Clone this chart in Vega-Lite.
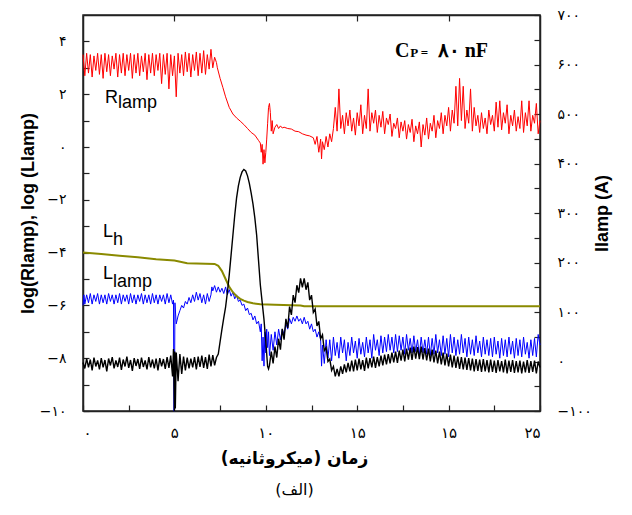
{
"$schema":"https://vega.github.io/schema/vega-lite/v6.json",
"autosize":"none",
"padding":{"left":83,"top":15,"right":92,"bottom":104},
"width":457,"height":396,
"config":{"view":{"stroke":"#222","strokeWidth":1.5},
"axis":{"grid":false,"domainColor":"#222","domainWidth":1.5,"tickColor":"#222","tickWidth":1.2,"labelFont":"DejaVu Sans","labelFontSize":14,"labelColor":"#000","titleColor":"#000"}},
"title":{"text":"(الف)","orient":"bottom","font":"DejaVu Sans","fontSize":16,"fontWeight":"normal","offset":16,"dx":-17,"color":"#000"},
"datasets":{
"red":[{"x":0,"y":3.5},{"x":0.1,"y":2.7},{"x":0.2,"y":3.55},{"x":0.3,"y":2.8},{"x":0.4,"y":3.5},{"x":0.5,"y":2.65},{"x":0.6,"y":3.45},{"x":0.7,"y":2.9},{"x":0.8,"y":3.55},{"x":0.9,"y":2.75},{"x":1.0,"y":3.5},{"x":1.1,"y":2.6},{"x":1.2,"y":3.55},{"x":1.3,"y":2.85},{"x":1.4,"y":3.5},{"x":1.5,"y":2.7},{"x":1.6,"y":3.45},{"x":1.7,"y":2.95},{"x":1.8,"y":3.55},{"x":1.9,"y":2.65},{"x":2.0,"y":3.5},{"x":2.1,"y":2.8},{"x":2.2,"y":3.55},{"x":2.3,"y":2.7},{"x":2.4,"y":3.5},{"x":2.5,"y":2.9},{"x":2.6,"y":3.55},{"x":2.7,"y":2.6},{"x":2.8,"y":3.5},{"x":2.9,"y":2.8},{"x":3.0,"y":3.55},{"x":3.1,"y":2.7},{"x":3.2,"y":3.45},{"x":3.3,"y":2.85},{"x":3.4,"y":3.55},{"x":3.5,"y":2.55},{"x":3.6,"y":3.5},{"x":3.7,"y":2.8},{"x":3.8,"y":3.55},{"x":3.9,"y":2.7},{"x":4.0,"y":3.5},{"x":4.1,"y":2.9},{"x":4.2,"y":3.55},{"x":4.3,"y":2.4},{"x":4.4,"y":3.5},{"x":4.5,"y":2.75},{"x":4.6,"y":3.55},{"x":4.7,"y":2.2},{"x":4.8,"y":3.5},{"x":4.9,"y":2.7},{"x":5.0,"y":3.45},{"x":5.1,"y":1.9},{"x":5.2,"y":3.55},{"x":5.3,"y":2.8},{"x":5.4,"y":3.5},{"x":5.5,"y":2.7},{"x":5.6,"y":3.6},{"x":5.7,"y":2.85},{"x":5.8,"y":3.55},{"x":5.9,"y":2.65},{"x":6.0,"y":3.5},{"x":6.1,"y":2.9},{"x":6.2,"y":3.6},{"x":6.3,"y":2.7},{"x":6.4,"y":3.55},{"x":6.5,"y":2.8},{"x":6.6,"y":3.65},{"x":6.7,"y":2.75},{"x":6.8,"y":3.5},{"x":6.9,"y":2.95},{"x":7.0,"y":3.7},{"x":7.1,"y":3.0},{"x":7.2,"y":3.4},{"x":7.3,"y":3.2},
{"x":7.35,"y":3.0},{"x":7.5,"y":2.6},{"x":7.65,"y":2.26},{"x":7.8,"y":1.9},{"x":8.0,"y":1.5},{"x":8.2,"y":1.25},{"x":8.4,"y":1.1},{"x":8.6,"y":0.98},{"x":8.8,"y":0.85},{"x":9.0,"y":0.7},{"x":9.2,"y":0.55},{"x":9.4,"y":0.45},{"x":9.6,"y":0.25},{"x":9.7,"y":0.15},{"x":9.75,"y":-0.2},{"x":9.8,"y":0.1},{"x":9.85,"y":-0.65},{"x":9.9,"y":-0.1},{"x":9.95,"y":-0.6},{"x":10.0,"y":-0.2},{"x":10.05,"y":0.3},{"x":10.1,"y":0.9},{"x":10.15,"y":1.5},{"x":10.2,"y":1.65},{"x":10.25,"y":1.3},{"x":10.3,"y":0.6},{"x":10.35,"y":1.0},{"x":10.4,"y":0.5},{"x":10.5,"y":0.75},{"x":10.6,"y":0.85},{"x":10.7,"y":0.7},{"x":10.8,"y":0.8},{"x":10.9,"y":0.72},{"x":11.0,"y":0.75},{"x":11.2,"y":0.7},{"x":11.4,"y":0.68},{"x":11.6,"y":0.6},{"x":11.8,"y":0.58},{"x":12.0,"y":0.5},{"x":12.2,"y":0.45},{"x":12.4,"y":0.42},{"x":12.6,"y":0.35},{"x":12.7,"y":0.1},{"x":12.8,"y":0.4},{"x":12.9,"y":-0.2},{"x":13.0,"y":0.3},{"x":13.05,"y":-0.45},{"x":13.1,"y":0.2},{"x":13.2,"y":-0.1},{"x":13.3,"y":0.4},{"x":13.4,"y":0.0},{"x":13.5,"y":0.5},{"x":13.6,"y":0.2},{"x":13.7,"y":0.7},
{"x":13.8,"y":1.5},{"x":13.9,"y":0.6},{"x":14.0,"y":2.2},{"x":14.1,"y":0.7},{"x":14.2,"y":1.2},{"x":14.3,"y":0.5},{"x":14.4,"y":1.3},{"x":14.5,"y":0.8},{"x":14.6,"y":1.4},{"x":14.7,"y":0.6},{"x":14.8,"y":1.1},{"x":14.9,"y":0.45},{"x":15.0,"y":1.3},{"x":15.1,"y":0.8},{"x":15.2,"y":1.6},{"x":15.3,"y":0.5},{"x":15.4,"y":1.2},{"x":15.5,"y":0.7},{"x":15.6,"y":2.2},{"x":15.7,"y":0.6},{"x":15.8,"y":1.3},{"x":15.9,"y":0.9},{"x":16.0,"y":1.4},{"x":16.1,"y":0.55},{"x":16.2,"y":1.2},{"x":16.3,"y":0.75},{"x":16.4,"y":1.35},{"x":16.5,"y":0.5},{"x":16.6,"y":1.1},{"x":16.7,"y":0.85},{"x":16.8,"y":1.25},{"x":16.9,"y":0.4},{"x":17.0,"y":0.9},{"x":17.1,"y":0.7},{"x":17.2,"y":1.1},{"x":17.3,"y":0.35},{"x":17.4,"y":0.95},{"x":17.5,"y":0.6},{"x":17.6,"y":1.0},{"x":17.7,"y":0.3},{"x":17.8,"y":0.85},{"x":17.9,"y":0.55},{"x":18.0,"y":1.05},{"x":18.1,"y":0.2},{"x":18.2,"y":0.8},{"x":18.3,"y":0.5},{"x":18.4,"y":0.95},{"x":18.5,"y":0.0},{"x":18.6,"y":0.85},{"x":18.7,"y":0.45},{"x":18.8,"y":1.1},{"x":18.9,"y":0.3},{"x":19.0,"y":0.9},{"x":19.1,"y":0.6},{"x":19.2,"y":1.2},{"x":19.3,"y":0.35},{"x":19.4,"y":1.0},{"x":19.5,"y":0.7},{"x":19.6,"y":1.3},{"x":19.7,"y":0.5},{"x":19.8,"y":1.2},{"x":19.9,"y":0.8},{"x":20.0,"y":1.5},{"x":20.1,"y":0.6},{"x":20.2,"y":1.4},{"x":20.3,"y":0.9},{"x":20.4,"y":2.3},{"x":20.5,"y":0.8},{"x":20.6,"y":2.6},{"x":20.7,"y":1.0},{"x":20.8,"y":2.3},{"x":20.9,"y":0.7},{"x":21.0,"y":1.4},{"x":21.1,"y":0.9},{"x":21.2,"y":2.2},{"x":21.3,"y":0.6},{"x":21.4,"y":1.5},{"x":21.5,"y":0.8},{"x":21.6,"y":1.2},{"x":21.7,"y":0.55},{"x":21.8,"y":1.3},{"x":21.9,"y":0.7},{"x":22.0,"y":1.1},{"x":22.1,"y":0.5},{"x":22.2,"y":1.4},{"x":22.3,"y":0.85},{"x":22.4,"y":1.2},{"x":22.5,"y":0.6},{"x":22.6,"y":1.7},{"x":22.7,"y":0.75},{"x":22.8,"y":1.75},{"x":22.9,"y":0.65},{"x":23.0,"y":1.3},{"x":23.1,"y":0.9},{"x":23.2,"y":1.6},{"x":23.3,"y":0.5},{"x":23.4,"y":1.2},{"x":23.5,"y":0.8},{"x":23.6,"y":1.4},{"x":23.7,"y":0.6},{"x":23.8,"y":1.15},{"x":23.9,"y":0.7},{"x":24.0,"y":1.75},{"x":24.1,"y":0.55},{"x":24.2,"y":1.3},{"x":24.3,"y":0.8},{"x":24.4,"y":1.75},{"x":24.5,"y":0.6},{"x":24.6,"y":1.2},{"x":24.7,"y":0.9},{"x":24.8,"y":1.65},{"x":24.9,"y":0.5},{"x":25.0,"y":1.0}],
"blue":[{"x":0,"y":-6.0},{"x":0.05,"y":-5.6},{"x":0.1,"y":-5.95},{"x":0.2,"y":-5.6},{"x":0.3,"y":-5.9},{"x":0.4,"y":-5.55},{"x":0.5,"y":-5.95},{"x":0.6,"y":-5.6},{"x":0.7,"y":-5.85},{"x":0.8,"y":-5.55},{"x":0.9,"y":-5.95},{"x":1.0,"y":-5.6},{"x":1.1,"y":-5.9},{"x":1.2,"y":-5.6},{"x":1.3,"y":-5.95},{"x":1.4,"y":-5.55},{"x":1.5,"y":-5.85},{"x":1.6,"y":-5.6},{"x":1.7,"y":-5.95},{"x":1.8,"y":-5.6},{"x":1.9,"y":-5.9},{"x":2.0,"y":-5.55},{"x":2.1,"y":-5.95},{"x":2.2,"y":-5.6},{"x":2.3,"y":-5.85},{"x":2.4,"y":-5.6},{"x":2.5,"y":-5.95},{"x":2.6,"y":-5.55},{"x":2.7,"y":-5.9},{"x":2.8,"y":-5.6},{"x":2.9,"y":-5.95},{"x":3.0,"y":-5.6},{"x":3.1,"y":-5.85},{"x":3.2,"y":-5.55},{"x":3.3,"y":-5.95},{"x":3.4,"y":-5.6},{"x":3.5,"y":-5.9},{"x":3.6,"y":-5.6},{"x":3.7,"y":-5.95},{"x":3.8,"y":-5.55},{"x":3.9,"y":-5.9},{"x":4.0,"y":-5.6},{"x":4.1,"y":-5.95},{"x":4.2,"y":-5.6},{"x":4.3,"y":-5.85},{"x":4.4,"y":-5.6},{"x":4.5,"y":-5.95},{"x":4.6,"y":-5.55},{"x":4.7,"y":-5.9},{"x":4.8,"y":-5.6},{"x":4.9,"y":-5.95},{"x":4.95,"y":-5.8},{"x":4.97,"y":-10},{"x":5.0,"y":-10},{"x":5.03,"y":-5.9},{"x":5.1,"y":-6.7},{"x":5.2,"y":-6.4},{"x":5.3,"y":-6.2},{"x":5.4,"y":-6.0},{"x":5.5,"y":-6.1},{"x":5.6,"y":-5.85},{"x":5.7,"y":-5.95},{"x":5.8,"y":-5.7},{"x":5.9,"y":-5.9},{"x":6.0,"y":-5.6},{"x":6.1,"y":-5.85},{"x":6.2,"y":-5.5},{"x":6.3,"y":-5.8},{"x":6.4,"y":-5.55},{"x":6.5,"y":-5.9},{"x":6.6,"y":-5.6},{"x":6.7,"y":-5.95},{"x":6.8,"y":-5.55},{"x":6.9,"y":-5.85},{"x":7.0,"y":-5.6},{"x":7.05,"y":-5.3},{"x":7.1,"y":-5.45},{"x":7.2,"y":-5.25},{"x":7.3,"y":-5.5},{"x":7.4,"y":-5.3},{"x":7.5,"y":-5.5},{"x":7.6,"y":-5.35},{"x":7.7,"y":-5.55},{"x":7.8,"y":-5.3},{"x":7.9,"y":-5.6},{"x":8.0,"y":-5.4},{"x":8.1,"y":-5.65},{"x":8.2,"y":-5.5},{"x":8.3,"y":-5.75},{"x":8.4,"y":-5.6},{"x":8.5,"y":-5.85},{"x":8.6,"y":-5.8},{"x":8.7,"y":-6.0},{"x":8.8,"y":-5.95},{"x":8.9,"y":-6.2},{"x":9.0,"y":-6.1},{"x":9.1,"y":-6.35},{"x":9.2,"y":-6.3},{"x":9.3,"y":-6.55},{"x":9.4,"y":-6.4},{"x":9.5,"y":-6.7},{"x":9.6,"y":-6.6},{"x":9.7,"y":-7.0},{"x":9.75,"y":-6.7},{"x":9.8,"y":-8.1},{"x":9.85,"y":-7.2},{"x":9.9,"y":-8.3},{"x":9.95,"y":-7.0},{"x":10.0,"y":-7.8},{"x":10.05,"y":-6.9},{"x":10.1,"y":-7.6},{"x":10.15,"y":-7.0},{"x":10.2,"y":-7.9},{"x":10.3,"y":-7.1},{"x":10.4,"y":-7.7},{"x":10.5,"y":-7.0},{"x":10.6,"y":-7.5},{"x":10.7,"y":-6.9},{"x":10.8,"y":-7.3},{"x":10.9,"y":-6.9},{"x":11.0,"y":-7.1},{"x":11.1,"y":-6.7},{"x":11.2,"y":-6.9},{"x":11.3,"y":-6.5},{"x":11.4,"y":-6.7},{"x":11.5,"y":-6.45},{"x":11.6,"y":-6.6},{"x":11.7,"y":-6.4},{"x":11.8,"y":-6.6},{"x":11.9,"y":-6.5},{"x":12.0,"y":-6.7},{"x":12.1,"y":-6.45},{"x":12.2,"y":-6.7},{"x":12.3,"y":-6.6},{"x":12.4,"y":-6.9},{"x":12.5,"y":-6.7},{"x":12.6,"y":-7.0},{"x":12.7,"y":-6.9},{"x":12.8,"y":-7.2},{"x":12.9,"y":-7.0},{"x":13.0,"y":-7.3},{"x":13.05,"y":-8.3},{"x":13.1,"y":-7.5},{"x":13.2,"y":-8.2},{"x":13.3,"y":-7.3},{"x":13.4,"y":-8.0},{"x":13.5,"y":-7.3},{"x":13.6,"y":-8.1},{"x":13.7,"y":-7.2},{"x":13.8,"y":-7.9},{"x":13.9,"y":-7.4},{"x":14.0,"y":-8.0},{"x":14.1,"y":-7.2},{"x":14.2,"y":-7.8},{"x":14.3,"y":-7.3},{"x":14.4,"y":-8.1},{"x":14.5,"y":-7.4},{"x":14.6,"y":-7.9},{"x":14.7,"y":-7.2},{"x":14.8,"y":-7.8},{"x":14.9,"y":-7.35},{"x":15.0,"y":-8.0},{"x":15.1,"y":-7.25},{"x":15.2,"y":-7.85},{"x":15.3,"y":-7.4},{"x":15.4,"y":-7.95},{"x":15.5,"y":-7.2},{"x":15.6,"y":-7.8},{"x":15.7,"y":-7.3},{"x":15.8,"y":-8.0},{"x":15.9,"y":-7.1},{"x":16.0,"y":-7.7},{"x":16.1,"y":-7.3},{"x":16.2,"y":-7.9},{"x":16.3,"y":-7.15},{"x":16.4,"y":-7.8},{"x":16.5,"y":-7.2},{"x":16.6,"y":-7.75},{"x":16.7,"y":-7.1},{"x":16.8,"y":-7.7},{"x":16.9,"y":-7.2},{"x":17.0,"y":-7.8},{"x":17.1,"y":-7.1},{"x":17.2,"y":-7.75},{"x":17.3,"y":-7.15},{"x":17.4,"y":-7.7},{"x":17.5,"y":-7.2},{"x":17.6,"y":-7.85},{"x":17.7,"y":-7.1},{"x":17.8,"y":-7.7},{"x":17.9,"y":-7.25},{"x":18.0,"y":-7.8},{"x":18.1,"y":-7.15},{"x":18.2,"y":-7.75},{"x":18.3,"y":-7.3},{"x":18.4,"y":-7.9},{"x":18.5,"y":-7.2},{"x":18.6,"y":-7.8},{"x":18.7,"y":-7.3},{"x":18.8,"y":-7.85},{"x":18.9,"y":-7.2},{"x":19.0,"y":-7.9},{"x":19.1,"y":-7.25},{"x":19.2,"y":-7.85},{"x":19.3,"y":-7.1},{"x":19.4,"y":-7.8},{"x":19.5,"y":-7.3},{"x":19.6,"y":-7.9},{"x":19.7,"y":-7.15},{"x":19.8,"y":-7.85},{"x":19.9,"y":-7.25},{"x":20.0,"y":-7.95},{"x":20.1,"y":-7.1},{"x":20.2,"y":-7.8},{"x":20.3,"y":-7.2},{"x":20.4,"y":-7.9},{"x":20.5,"y":-7.3},{"x":20.6,"y":-7.85},{"x":20.7,"y":-7.1},{"x":20.8,"y":-7.8},{"x":20.9,"y":-7.25},{"x":21.0,"y":-7.95},{"x":21.1,"y":-7.2},{"x":21.2,"y":-7.85},{"x":21.3,"y":-7.3},{"x":21.4,"y":-7.9},{"x":21.5,"y":-7.15},{"x":21.6,"y":-7.8},{"x":21.7,"y":-7.35},{"x":21.8,"y":-7.95},{"x":21.9,"y":-7.2},{"x":22.0,"y":-7.85},{"x":22.1,"y":-7.3},{"x":22.2,"y":-7.9},{"x":22.3,"y":-7.25},{"x":22.4,"y":-7.95},{"x":22.5,"y":-7.2},{"x":22.6,"y":-7.85},{"x":22.7,"y":-7.35},{"x":22.8,"y":-8.0},{"x":22.9,"y":-7.25},{"x":23.0,"y":-7.9},{"x":23.1,"y":-7.3},{"x":23.2,"y":-7.95},{"x":23.3,"y":-7.2},{"x":23.4,"y":-7.85},{"x":23.5,"y":-7.35},{"x":23.6,"y":-8.0},{"x":23.7,"y":-7.25},{"x":23.8,"y":-7.9},{"x":23.9,"y":-7.3},{"x":24.0,"y":-7.95},{"x":24.1,"y":-7.2},{"x":24.2,"y":-7.85},{"x":24.3,"y":-7.4},{"x":24.4,"y":-8.0},{"x":24.5,"y":-7.3},{"x":24.6,"y":-7.9},{"x":24.7,"y":-7.25},{"x":24.8,"y":-7.95},{"x":24.9,"y":-7.1},{"x":25.0,"y":-7.5}],
"olive":[{"x":0,"y":-4.0},{"x":1.0,"y":-4.05},{"x":2.0,"y":-4.12},{"x":3.0,"y":-4.18},{"x":4.0,"y":-4.25},{"x":5.0,"y":-4.3},{"x":5.7,"y":-4.4},{"x":7.2,"y":-4.43},{"x":7.4,"y":-4.5},{"x":7.6,"y":-4.7},{"x":7.8,"y":-5.0},{"x":8.0,"y":-5.3},{"x":8.2,"y":-5.5},{"x":8.4,"y":-5.65},{"x":8.6,"y":-5.75},{"x":8.8,"y":-5.82},{"x":9.0,"y":-5.87},{"x":9.3,"y":-5.92},{"x":9.7,"y":-5.96},{"x":10.5,"y":-5.98},{"x":11.9,"y":-6.0},{"x":12.1,"y":-6.03},{"x":25,"y":-6.03}],
"cur":[{"x":0,"y":-2},{"x":0.1,"y":-14},{"x":0.2,"y":6},{"x":0.3,"y":-12},{"x":0.4,"y":4},{"x":0.5,"y":-18},{"x":0.6,"y":8},{"x":0.7,"y":-10},{"x":0.8,"y":2},{"x":0.9,"y":-16},{"x":1.0,"y":7},{"x":1.1,"y":-12},{"x":1.2,"y":3},{"x":1.3,"y":-20},{"x":1.4,"y":6},{"x":1.5,"y":-8},{"x":1.6,"y":9},{"x":1.7,"y":-14},{"x":1.8,"y":2},{"x":1.9,"y":-11},{"x":2.0,"y":8},{"x":2.1,"y":-17},{"x":2.2,"y":4},{"x":2.3,"y":-10},{"x":2.4,"y":10},{"x":2.5,"y":-13},{"x":2.6,"y":3},{"x":2.7,"y":-19},{"x":2.8,"y":7},{"x":2.9,"y":-9},{"x":3.0,"y":5},{"x":3.1,"y":-15},{"x":3.2,"y":8},{"x":3.3,"y":-11},{"x":3.4,"y":2},{"x":3.5,"y":-16},{"x":3.6,"y":9},{"x":3.7,"y":-12},{"x":3.8,"y":4},{"x":3.9,"y":-14},{"x":4.0,"y":6},{"x":4.1,"y":-18},{"x":4.2,"y":7},{"x":4.3,"y":-10},{"x":4.4,"y":5},{"x":4.5,"y":-15},{"x":4.6,"y":9},{"x":4.7,"y":-13},{"x":4.8,"y":12},{"x":4.9,"y":-30},{"x":4.95,"y":25},{"x":5.0,"y":-100},{"x":5.02,"y":20},{"x":5.05,"y":-95},{"x":5.1,"y":18},{"x":5.2,"y":-40},{"x":5.3,"y":15},{"x":5.4,"y":-25},{"x":5.5,"y":10},{"x":5.6,"y":-18},{"x":5.7,"y":8},{"x":5.8,"y":-14},{"x":5.9,"y":6},{"x":6.0,"y":-12},{"x":6.1,"y":9},{"x":6.2,"y":-16},{"x":6.3,"y":10},{"x":6.4,"y":-11},{"x":6.5,"y":12},{"x":6.6,"y":-13},{"x":6.7,"y":9},{"x":6.8,"y":-15},{"x":6.9,"y":14},{"x":7.0,"y":-10},{"x":7.1,"y":13},{"x":7.2,"y":-8},{"x":7.3,"y":8},
{"x":7.4,"y":15},{"x":7.5,"y":40},{"x":7.6,"y":65},{"x":7.7,"y":88},{"x":7.8,"y":110},{"x":7.9,"y":140},{"x":8.0,"y":175},{"x":8.1,"y":215},{"x":8.2,"y":255},{"x":8.3,"y":295},{"x":8.4,"y":330},{"x":8.5,"y":355},{"x":8.6,"y":372},{"x":8.7,"y":383},{"x":8.8,"y":388},{"x":8.9,"y":385},{"x":9.0,"y":375},{"x":9.1,"y":360},{"x":9.2,"y":340},{"x":9.3,"y":318},{"x":9.4,"y":290},{"x":9.5,"y":255},{"x":9.6,"y":205},{"x":9.7,"y":155},{"x":9.8,"y":120},{"x":9.9,"y":85},{"x":10.0,"y":40},{"x":10.1,"y":-10},{"x":10.15,"y":-15},
{"x":10.2,"y":-8},{"x":10.3,"y":20},{"x":10.4,"y":-4},{"x":10.5,"y":30},{"x":10.6,"y":8},{"x":10.7,"y":46},{"x":10.8,"y":24},{"x":10.9,"y":66},{"x":11.0,"y":44},{"x":11.1,"y":86},{"x":11.2,"y":68},{"x":11.3,"y":111},{"x":11.4,"y":94},{"x":11.5,"y":134},{"x":11.6,"y":119},{"x":11.7,"y":154},{"x":11.8,"y":139},{"x":11.9,"y":168},{"x":12.0,"y":150},{"x":12.1,"y":168},{"x":12.2,"y":145},{"x":12.3,"y":160},{"x":12.4,"y":124},{"x":12.5,"y":134},{"x":12.6,"y":99},{"x":12.7,"y":106},{"x":12.8,"y":72},{"x":12.9,"y":81},{"x":13.0,"y":46},{"x":13.1,"y":54},{"x":13.2,"y":22},{"x":13.3,"y":28},{"x":13.4,"y":0},{"x":13.5,"y":5},{"x":13.6,"y":-18},{"x":13.7,"y":-10},{"x":13.8,"y":-30},{"x":13.9,"y":-15},{"x":14.0,"y":-30},{"x":14.1,"y":-10},{"x":14.2,"y":-25},{"x":14.3,"y":-6},{"x":14.4,"y":-22},{"x":14.5,"y":-3},{"x":14.6,"y":-20},
{"x":14.7,"y":2},{"x":14.8,"y":-20},{"x":14.9,"y":4},{"x":15.0,"y":-18},{"x":15.1,"y":6},{"x":15.2,"y":-16},{"x":15.3,"y":3},{"x":15.4,"y":-19},{"x":15.5,"y":8},{"x":15.6,"y":-14},{"x":15.7,"y":7},{"x":15.8,"y":-12},{"x":15.9,"y":10},{"x":16.0,"y":-13},{"x":16.1,"y":9},{"x":16.2,"y":-10},{"x":16.3,"y":12},{"x":16.4,"y":-8},{"x":16.5,"y":14},{"x":16.6,"y":-6},{"x":16.7,"y":15},{"x":16.8,"y":-4},{"x":16.9,"y":18},{"x":17.0,"y":-2},{"x":17.1,"y":20},{"x":17.2,"y":-3},{"x":17.3,"y":22},{"x":17.4,"y":2},{"x":17.5,"y":24},{"x":17.6,"y":0},{"x":17.7,"y":26},{"x":17.8,"y":4},{"x":17.9,"y":28},{"x":18.0,"y":3},{"x":18.1,"y":30},{"x":18.2,"y":6},{"x":18.3,"y":29},{"x":18.4,"y":5},{"x":18.5,"y":30},{"x":18.6,"y":4},{"x":18.7,"y":27},{"x":18.8,"y":2},{"x":18.9,"y":26},{"x":19.0,"y":0},{"x":19.1,"y":24},{"x":19.2,"y":-2},{"x":19.3,"y":22},{"x":19.4,"y":-4},{"x":19.5,"y":20},{"x":19.6,"y":-6},{"x":19.7,"y":18},{"x":19.8,"y":-8},{"x":19.9,"y":16},{"x":20.0,"y":-10},{"x":20.1,"y":14},{"x":20.2,"y":-12},{"x":20.3,"y":12},{"x":20.4,"y":-13},{"x":20.5,"y":10},{"x":20.6,"y":-15},{"x":20.7,"y":9},{"x":20.8,"y":-16},{"x":20.9,"y":8},{"x":21.0,"y":-17},{"x":21.1,"y":7},{"x":21.2,"y":-18},{"x":21.3,"y":6},{"x":21.4,"y":-20},{"x":21.5,"y":5},{"x":21.6,"y":-19},{"x":21.7,"y":4},{"x":21.8,"y":-21},{"x":21.9,"y":5},{"x":22.0,"y":-20},{"x":22.1,"y":3},{"x":22.2,"y":-22},{"x":22.3,"y":4},{"x":22.4,"y":-21},{"x":22.5,"y":2},{"x":22.6,"y":-23},{"x":22.7,"y":3},{"x":22.8,"y":-20},{"x":22.9,"y":1},{"x":23.0,"y":-22},{"x":23.1,"y":4},{"x":23.2,"y":-24},{"x":23.3,"y":2},{"x":23.4,"y":-21},{"x":23.5,"y":3},{"x":23.6,"y":-23},{"x":23.7,"y":1},{"x":23.8,"y":-22},{"x":23.9,"y":2},{"x":24.0,"y":-24},{"x":24.1,"y":0},{"x":24.2,"y":-22},{"x":24.3,"y":3},{"x":24.4,"y":-23},{"x":24.5,"y":1},{"x":24.6,"y":-21},{"x":24.7,"y":2},{"x":24.8,"y":-24},{"x":24.9,"y":0},{"x":25.0,"y":-12}],
"lbl":[{"t":"R","x":1.2,"y":1.67},{"t":"lamp","x":1.92,"y":1.48},{"t":"L","x":1.09,"y":-3.41},{"t":"h","x":1.64,"y":-3.71},{"t":"L","x":1.09,"y":-5.0},{"t":"lamp","x":1.64,"y":-5.3}],
"cbig":[{"t":"C","x":17.07,"y":3.41},{"t":"۸۰ nF","x":19.4,"y":3.41}],
"csmall":[{"t":"P =","x":17.9,"y":3.41}]
},
"layer":[
{"data":{"name":"blue"},"mark":{"type":"line","color":"#0000ff","strokeWidth":1},
"encoding":{"x":{"field":"x","type":"quantitative","scale":{"domain":[0,25],"nice":false},
"axis":{"orient":"bottom","values":[0,2.5,5,7.5,10,12.5,15,17.5,20,22.5,25],"tickSize":-6,"labelPadding":20,"labelFontSize":15,"labelExpr":"datum.value==0?'۰':datum.value==5?'۵':datum.value==10?'۱۰':datum.value==15?'۱۵':datum.value==20?'۱۵':datum.value==25?'۲۵':''","title":"زمان (میکروثانیه)","titleFont":"DejaVu Sans","titleFontSize":17,"titleFontWeight":"bold","titlePadding":10,"titleX":211}},
"y":{"field":"y","type":"quantitative","scale":{"domain":[-10,5],"nice":false,"zero":false},
"axis":{"orient":"left","values":[4,3,2,1,0,-1,-2,-3,-4,-5,-6,-7,-8,-9,-10],"tickSize":-6,"labelPadding":23,"labelExpr":"datum.value==4?'۴':datum.value==2?'۲':datum.value==0?'۰':datum.value==-2?'−۲':datum.value==-4?'−۴':datum.value==-6?'−۶':datum.value==-8?'−۸':datum.value==-10?'−۱۰':''","title":"log(Rlamp),  log (Llamp)","titleFont":"Liberation Sans","titleFontSize":18,"titleFontWeight":"bold","titlePadding":2}}}},
{"data":{"name":"olive"},"mark":{"type":"line","color":"#8a8a00","strokeWidth":2},
"encoding":{"x":{"field":"x","type":"quantitative","axis":null},"y":{"field":"y","type":"quantitative","scale":{"domain":[-10,5],"nice":false,"zero":false},"axis":null}}},
{"data":{"name":"red"},"mark":{"type":"line","color":"#ff0000","strokeWidth":1},
"encoding":{"x":{"field":"x","type":"quantitative","axis":null},"y":{"field":"y","type":"quantitative","scale":{"domain":[-10,5],"nice":false,"zero":false},"axis":null}}},
{"data":{"name":"lbl"},"mark":{"type":"text","font":"Liberation Sans","fontSize":18,"align":"left","baseline":"alphabetic","color":"#000"},
"encoding":{"x":{"field":"x","type":"quantitative","axis":null},"y":{"field":"y","type":"quantitative","scale":{"domain":[-10,5],"nice":false,"zero":false},"axis":null},"text":{"field":"t"}}},
{"data":{"name":"cbig"},"mark":{"type":"text","font":"Liberation Serif","fontWeight":"bold","fontSize":20,"align":"left","baseline":"alphabetic","color":"#000"},
"encoding":{"x":{"field":"x","type":"quantitative","axis":null},"y":{"field":"y","type":"quantitative","scale":{"domain":[-10,5],"nice":false,"zero":false},"axis":null},"text":{"field":"t"}}},
{"data":{"name":"csmall"},"mark":{"type":"text","font":"Liberation Serif","fontWeight":"bold","fontSize":13,"align":"left","baseline":"alphabetic","color":"#000"},
"encoding":{"x":{"field":"x","type":"quantitative","axis":null},"y":{"field":"y","type":"quantitative","scale":{"domain":[-10,5],"nice":false,"zero":false},"axis":null},"text":{"field":"t"}}},
{"data":{"name":"cur"},"mark":{"type":"line","color":"#000000","strokeWidth":1.4},
"encoding":{"x":{"field":"x","type":"quantitative","axis":{"orient":"top","values":[5,10,15,20],"tickSize":-6,"labels":false,"title":null}},
"y":{"field":"y","type":"quantitative","scale":{"domain":[-100,700],"nice":false,"zero":false},
"axis":{"orient":"right","values":[700,650,600,550,500,450,400,350,300,250,200,150,100,50,0,-50,-100],"tickSize":-6,"labelPadding":23,"labelExpr":"datum.value==700?'۷۰۰':datum.value==600?'۶۰۰':datum.value==500?'۵۰۰':datum.value==400?'۴۰۰':datum.value==300?'۳۰۰':datum.value==200?'۲۰۰':datum.value==100?'۱۰۰':datum.value==0?'۰':datum.value==-100?'−۱۰۰':''","title":"Ilamp (A)","titleAngle":-90,"titleFont":"Liberation Sans","titleFontSize":18,"titleFontWeight":"bold","titlePadding":20}}}}
],
"resolve":{"scale":{"y":"independent"}}
}
